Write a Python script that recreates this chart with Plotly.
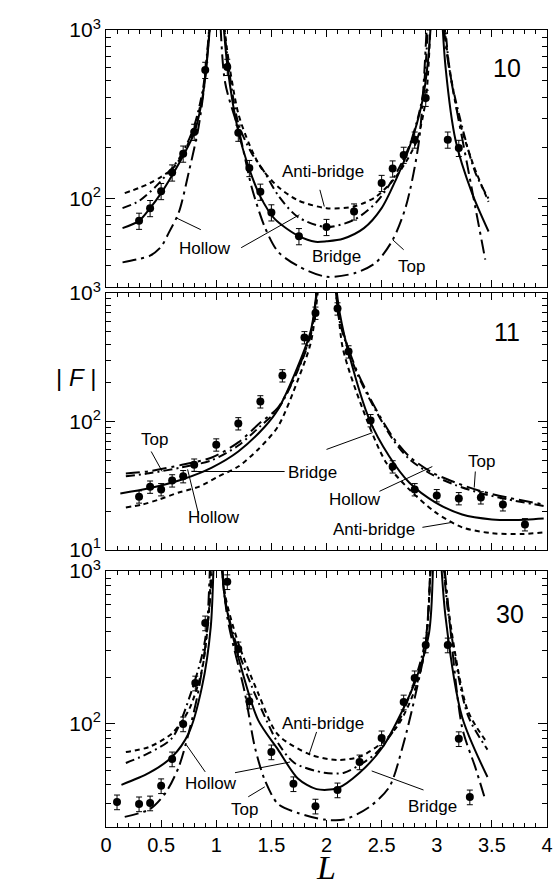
import math
import plotly.graph_objects as go

# ---------------- data ----------------
# Panel A: rod (1,0)
A_obs_L = [0.3, 0.4, 0.5, 0.6, 0.7, 0.8, 0.9, 1.1, 1.2, 1.3, 1.4, 1.5, 1.75, 2.0, 2.25, 2.5, 2.6, 2.7, 2.8, 2.9, 3.1, 3.2]
A_obs_F = [74, 88, 111, 143, 185, 249, 580, 604, 246, 152, 110, 83, 60, 68, 84, 124, 151, 182, 224, 396, 224, 200]

A_bridge_L = [0.15, 0.3, 0.4, 0.5, 0.6, 0.7, 0.8, 0.87, 0.92, 0.96, None, 1.05, 1.1, 1.2, 1.3, 1.4, 1.53, 1.75, 1.9, 2.0, 2.15, 2.34, 2.5, 2.63, 2.75, 2.87, 2.92, 2.96, None, 3.04, 3.08, 3.17, 3.32, 3.47]
A_bridge_F = [67, 74, 88, 108, 138, 180, 245, 380, 700, 1500, None, 1500, 620, 250, 150, 103, 76, 60, 55.6, 56, 58, 67, 88, 130, 200, 380, 650, 1500, None, 1500, 600, 223, 108, 64]

A_hollow_L = [0.15, 0.3, 0.45, 0.6, 0.7, 0.8, 0.88, 0.93, 0.96, None, 1.05, 1.1, 1.2, 1.32, 1.44, 1.56, 1.74, 2.0, 2.25, 2.45, 2.6, 2.75, 2.87, 2.93, None, 3.06, 3.12, 3.23, 3.35, 3.47]
A_hollow_F = [88, 97, 118, 152, 190, 270, 450, 900, 1500, None, 1500, 700, 280, 187, 143, 105, 78, 68, 75, 95, 130, 205, 400, 1500, None, 1500, 560, 267, 143, 100]

A_anti_L = [0.17, 0.3, 0.4, 0.5, 0.6, 0.7, 0.8, 0.88, 0.93, 0.96, None, 1.05, 1.1, 1.2, 1.3, 1.4, 1.56, 1.74, 2.0, 2.25, 2.45, 2.63, 2.81, 2.9, 2.95, None, 3.05, 3.1, 3.2, 3.33, 3.47]
A_anti_F = [108, 116, 124, 135, 150, 185, 260, 430, 850, 1500, None, 1500, 750, 320, 210, 155, 118, 98, 88, 90, 103, 135, 214, 385, 1500, None, 1500, 700, 300, 160, 96]

A_top_L = [0.15, 0.3, 0.4, 0.5, 0.57, 0.66, 0.75, 0.84, 0.91, 0.95, None, 1.03, 1.08, 1.21, 1.32, 1.44, 1.56, 1.74, 2.0, 2.27, 2.45, 2.6, 2.72, 2.84, 2.92, None, 3.04, 3.1, 3.28, 3.44]
A_top_F = [42, 44, 46, 52, 63, 83, 143, 267, 600, 1500, None, 1500, 490, 246, 118, 68, 48.6, 40, 34.5, 36.5, 42, 57, 90, 223, 1500, None, 1500, 665, 155, 43.6]

# Panel B: rod (1,1)
B_obs_L = [0.3, 0.4, 0.5, 0.6, 0.7, 0.8, 1.0, 1.2, 1.4, 1.6, 1.8, 1.9, 2.1, 2.2, 2.4, 2.6, 2.8, 3.0, 3.2, 3.4, 3.6, 3.8]
B_obs_F = [26, 31, 29.6, 34.7, 37.4, 46, 66, 96.5, 143, 228, 451, 700, 756, 350, 102, 44.6, 29.6, 26.6, 25.2, 25.6, 22.6, 15.8]

B_bridge_L = [0.13, 0.39, 0.69, 0.96, 1.2, 1.44, 1.56, 1.74, 1.86, 1.93, None, 2.07, 2.12, 2.21, 2.39, 2.57, 2.75, 2.99, 3.23, 3.5, 3.7, 3.97]
B_bridge_F = [27.5, 30.2, 35.4, 43.8, 58.4, 91, 124, 268, 520, 1500, None, 1500, 700, 320, 103, 53.4, 33.5, 23.4, 18.9, 17.3, 17.1, 17.6]

B_anti_L = [0.18, 0.33, 0.48, 0.66, 0.84, 1.02, 1.2, 1.38, 1.56, 1.74, 1.86, 1.94, None, 2.06, 2.1, 2.15, 2.33, 2.54, 2.75, 2.99, 3.23, 3.5, 3.77, 3.97]
B_anti_F = [21.4, 22.6, 24.7, 28, 31, 37.4, 44.6, 60.6, 91.4, 210, 420, 1500, None, 1500, 800, 364, 124, 48, 29.6, 19.6, 15, 13.5, 13.3, 13.7]

B_top_L = [0.18, 0.39, 0.69, 0.96, 1.2, 1.4, 1.56, 1.74, 1.86, 1.93, None, 2.07, 2.12, 2.27, 2.45, 2.6, 2.75, 2.96, 3.17, 3.41, 3.64, 3.97]
B_top_F = [39.4, 41, 46, 52.4, 68.7, 98, 128, 254, 494, 1500, None, 1500, 620, 254, 124, 76, 53.4, 40, 33.5, 28.5, 25.6, 22.6]

B_hollow_L = [0.18, 0.39, 0.69, 0.96, 1.2, 1.4, 1.56, 1.74, 1.86, 1.93, None, 2.07, 2.12, 2.27, 2.45, 2.6, 2.75, 2.96, 3.17, 3.41, 3.64, 3.97]
B_hollow_F = [37.5, 39.5, 44, 50, 65, 92, 125, 250, 480, 1500, None, 1500, 600, 245, 120, 73, 51, 38.5, 32, 27.5, 24.8, 22]

# Panel C: rod (3,0)
C_obs_L = [0.1, 0.3, 0.4, 0.5, 0.6, 0.7, 0.81, 0.9, 1.1, 1.2, 1.3, 1.5, 1.7, 1.9, 2.1, 2.3, 2.5, 2.7, 2.8, 2.9, 3.1, 3.2, 3.3]
C_obs_F = [30.9, 30, 30.4, 39.4, 59, 100, 185, 457, 850, 309, 141, 65.6, 40.6, 29, 37, 56.4, 81, 139, 200, 328, 328, 80, 33.3]

C_bridge_L = [0.14, 0.39, 0.6, 0.75, 0.87, 0.95, 0.98, None, 1.04, 1.08, 1.24, 1.38, 1.56, 1.74, 1.91, 2.1, 2.3, 2.51, 2.69, 2.81, 2.93, 2.97, None, 3.03, 3.08, 3.23, 3.46]
C_bridge_F = [40, 47.8, 61, 87, 174, 430, 1500, None, 1500, 650, 215, 106, 68, 44, 37.5, 38, 48, 70.7, 123, 194, 393, 1500, None, 1500, 500, 111, 45]

C_anti_L = [0.18, 0.39, 0.6, 0.75, 0.87, 0.93, 0.96, None, 1.04, 1.08, 1.2, 1.38, 1.56, 1.86, 2.1, 2.3, 2.51, 2.66, 2.81, 2.9, 2.95, None, 3.05, 3.1, 3.28, 3.46]
C_anti_F = [65.6, 70.7, 87, 123, 225, 500, 1500, None, 1500, 700, 338, 159, 85, 62.8, 58.2, 61, 76, 101, 174, 330, 1500, None, 1500, 600, 123, 75]

C_hollow_L = [0.18, 0.39, 0.6, 0.77, 0.88, 0.94, 0.97, None, 1.04, 1.08, 1.2, 1.38, 1.56, 1.71, 1.98, 2.16, 2.33, 2.45, 2.63, 2.78, 2.9, 2.95, None, 3.05, 3.1, 3.28, 3.46]
C_hollow_F = [55.6, 64.6, 81, 159, 300, 600, 1500, None, 1500, 650, 300, 140, 75, 55.6, 48, 48, 55.6, 64.6, 95.5, 174, 360, 1500, None, 1500, 560, 115, 68]

C_top_L = [0.17, 0.4, 0.54, 0.66, 0.75, 0.84, 0.91, 0.95, None, 1.04, 1.1, 1.26, 1.35, 1.44, 1.56, 1.74, 1.98, 2.16, 2.39, 2.57, 2.69, 2.81, 2.9, 2.95, None, 3.05, 3.08, 3.23, 3.35, 3.44]
C_top_F = [24.7, 27.8, 35.4, 52.4, 87.4, 167, 370, 1500, None, 1500, 500, 159, 70.7, 43, 30, 26.2, 23.7, 23.7, 28.7, 38.8, 70.7, 159, 338, 1500, None, 1500, 900, 95, 52, 32]

rod_labels = ["10", "11", "30"]
x_ticks = [0, 0.5, 1, 1.5, 2, 2.5, 3, 3.5, 4]
x_tick_text = ["0", "0.5", "1", "1.5", "2", "2.5", "3", "3.5", "4"]

# ---------------- styles ----------------
STYLE = {
    "bridge": dict(color="black", width=2, dash="solid"),
    "anti": dict(color="black", width=2, dash="5px,4px"),
    "hollow": dict(color="black", width=2, dash="9px,4px,2px,4px"),
    "top": dict(color="black", width=2, dash="14px,5px,3px,5px"),
}
FONT = "Liberation Sans, Arial, sans-serif"

panels = [
    dict(xa="x", ya="y", obs=(A_obs_L, A_obs_F),
         curves=[("bridge", A_bridge_L, A_bridge_F), ("anti", A_anti_L, A_anti_F),
                 ("hollow", A_hollow_L, A_hollow_F), ("top", A_top_L, A_top_F)]),
    dict(xa="x2", ya="y2", obs=(B_obs_L, B_obs_F),
         curves=[("bridge", B_bridge_L, B_bridge_F), ("anti", B_anti_L, B_anti_F),
                 ("hollow", B_hollow_L, B_hollow_F), ("top", B_top_L, B_top_F)]),
    dict(xa="x3", ya="y3", obs=(C_obs_L, C_obs_F),
         curves=[("bridge", C_bridge_L, C_bridge_F), ("anti", C_anti_L, C_anti_F),
                 ("hollow", C_hollow_L, C_hollow_F), ("top", C_top_L, C_top_F)]),
]

fig = go.Figure()
for p in panels:
    for name, L, F in p["curves"]:
        fig.add_trace(go.Scatter(x=L, y=F, mode="lines", line=dict(**STYLE[name], shape="spline", smoothing=0.8),
                                 connectgaps=False, xaxis=p["xa"], yaxis=p["ya"], showlegend=False,
                                 hoverinfo="skip"))
    fig.add_trace(go.Scatter(x=p["obs"][0], y=p["obs"][1], mode="markers",
                             marker=dict(color="black", size=8),
                             error_y=dict(type="percent", value=11, width=3, thickness=1, color="black"),
                             xaxis=p["xa"], yaxis=p["ya"], showlegend=False, cliponaxis=False))

# ---------------- axes ----------------
minor_y = [v * 10 ** d for d in (1, 2) for v in range(2, 10)]
sup = {10: "10<sup>1</sup>", 100: "10<sup>2</sup>", 1000: "10<sup>3</sup>"}

def yax(domain, rng, vals):
    return dict(type="log", domain=domain, range=rng, showgrid=False, zeroline=False,
                showline=True, linecolor="black", linewidth=1, mirror="ticks",
                ticks="inside", ticklen=9, tickwidth=1, tickcolor="black",
                tickvals=vals, ticktext=[sup[v] for v in vals],
                tickfont=dict(family=FONT, size=21, color="black"),
                minor=dict(tickvals=minor_y, ticks="inside", ticklen=5, tickcolor="black", tickwidth=1))

def xax(anchor, labels):
    d = dict(range=[0, 4], anchor=anchor, showgrid=False, zeroline=False,
             showline=True, linecolor="black", linewidth=1, mirror="ticks",
             ticks="inside", ticklen=7, tickwidth=1, tickcolor="black",
             tickvals=x_ticks, ticktext=x_tick_text, showticklabels=labels,
             tickfont=dict(family=FONT, size=20, color="black"),
             minor=dict(dtick=0.1, ticks="inside", ticklen=4, tickcolor="black", tickwidth=1))
    if anchor != "y3":
        d["matches"] = "x3"
    return d

fig.update_layout(
    width=560, height=888, autosize=False,
    margin=dict(l=106, r=7, t=30, b=61),
    paper_bgcolor="white", plot_bgcolor="white",
    xaxis=xax("y", False), xaxis2=xax("y2", False), xaxis3=xax("y3", True),
    yaxis=yax([0.6775, 1.0], [math.log10(30), 3], [100, 1000]),
    yaxis2=yax([0.3476, 0.6700], [1, 3], [10, 100, 1000]),
    yaxis3=yax([0.0, 0.3212], [math.log10(21.2), 3], [100, 1000]),
)

# ---------------- labels ----------------
LABELS = [
    ("x", "y", "Anti-bridge", 1.97, 146), ("x", "y", "Hollow", 0.895, 50.6),
    ("x", "y", "Bridge", 2.09, 45.4), ("x", "y", "Top", 2.77, 39.5),
    ("x2", "y2", "Top", 0.44, 72.4), ("x2", "y2", "Hollow", 0.98, 17.9),
    ("x2", "y2", "Bridge", 1.87, 40.1), ("x2", "y2", "Hollow", 2.26, 24.7),
    ("x2", "y2", "Top", 3.41, 48.9), ("x2", "y2", "Anti-bridge", 2.43, 14.4),
    ("x3", "y3", "Anti-bridge", 1.97, 100), ("x3", "y3", "Hollow", 0.95, 41.1),
    ("x3", "y3", "Top", 1.26, 27.5), ("x3", "y3", "Bridge", 2.96, 28.7),
]
for xr, yr, t, lx, ly in LABELS:
    fig.add_annotation(xref=xr, yref=yr, x=lx, y=math.log10(ly), text=t, showarrow=False,
                       xanchor="center", yanchor="middle",
                       font=dict(family=FONT, size=17, color="black"))

ROD_POS = [("x", "y", 3.64, 596), ("x2", "y2", 3.64, 493), ("x3", "y3", 3.66, 523)]
for (xr, yr, lx, ly), t in zip(ROD_POS, rod_labels):
    fig.add_annotation(xref=xr, yref=yr, x=lx, y=math.log10(ly), text=t, showarrow=False,
                       xanchor="center", yanchor="middle",
                       font=dict(family=FONT, size=25, color="black"))

POINTERS = [
    ("x", "y", 1.94, 113, 1.98, 90), ("x", "y", 0.86, 65.6, 0.635, 77.2),
    ("x", "y", 1.226, 51.3, 1.754, 80.4), ("x", "y", 2.70, 49.9, 2.60, 57.2),
    ("x2", "y2", 0.41, 58.4, 0.51, 40.8), ("x2", "y2", 0.84, 18.9, 0.74, 42.4),
    ("x2", "y2", 0.78, 40.8, 1.62, 40.8), ("x2", "y2", 2.0, 60.6, 2.42, 82),
    ("x2", "y2", 2.48, 28.6, 2.96, 44.6), ("x2", "y2", 3.35, 40.8, 3.34, 30.6),
    ("x2", "y2", 2.87, 15, 3.14, 16.4),
    ("x3", "y3", 1.91, 88.7, 1.84, 62.7), ("x3", "y3", 0.9, 48.6, 0.73, 72.9),
    ("x3", "y3", 1.17, 48, 1.67, 56.4), ("x3", "y3", 1.29, 33.4, 1.44, 38.8),
    ("x3", "y3", 2.88, 37, 2.41, 49.3),
]
for xr, yr, x0, y0, x1, y1 in POINTERS:
    fig.add_shape(type="line", xref=xr, yref=yr, x0=x0, y0=y0, x1=x1, y1=y1,
                  line=dict(color="black", width=1))

fig.add_annotation(xref="paper", yref="paper", x=-0.067, y=0.5634, text="| <i>F</i> |",
                   xanchor="center", yanchor="middle",
                   showarrow=False, font=dict(family=FONT, size=24, color="black"))
fig.add_annotation(xref="paper", yref="paper", x=0.4989, y=-0.0502, text="<i>L</i>",
                   xanchor="center", yanchor="middle",
                   showarrow=False, font=dict(family="Liberation Serif, Times New Roman, serif", size=34, color="black"))

fig.write_html("out.html")
